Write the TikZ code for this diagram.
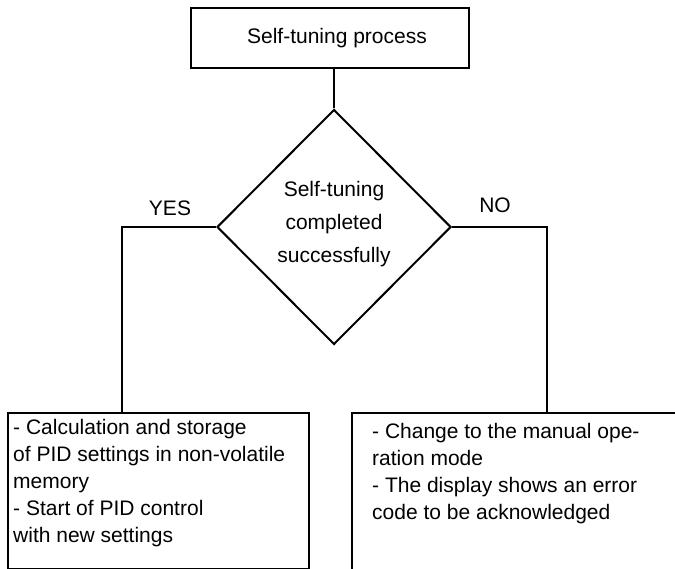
\documentclass[tikz,border=0pt]{standalone}
\usepackage{fontspec}
\setmainfont{Liberation Sans}
\usetikzlibrary{shapes.geometric,calc}
\begin{document}
\begin{tikzpicture}[x=1pt,y=-1pt,
  line/.style={line width=2pt, line join=miter},
  box/.style={draw, line width=2pt, rectangle, inner sep=0pt},
  txt/.style={font=\fontsize{21}{27}\selectfont, inner sep=0pt, align=left, anchor=north west},
  lbl/.style={font=\fontsize{21}{25}\selectfont, inner sep=0pt}]
\useasboundingbox (0,0) rectangle (675,569);
\clip (0,0) rectangle (675,569);
\node[box, minimum width=278pt, minimum height=60pt, font=\fontsize{21}{25}\selectfont] (top) at (330,38) {\hspace*{14pt}Self-tuning process};
\node[diamond, draw, line width=2pt, minimum width=234pt, minimum height=235pt, inner sep=0pt] (dec) at (334,227) {};
\node[lbl, align=center, font=\fontsize{21}{33}\selectfont] (dtext) at (334,224) {Self-tuning\\completed\\successfully};
\node[box, anchor=north west, minimum width=301pt, minimum height=156pt] (lbox) at (7,412) {};
\node[box, anchor=north west, minimum width=400pt, minimum height=220pt] (rbox) at (351,412) {};
\node[txt] (ltext) at ($(lbox.north west)+(6,7)$) {- Calculation and storage\\of PID settings in non-volatile\\memory\\- Start of PID control\\with new settings};
\node[txt] (rtext) at ($(rbox.north west)+(21,11)$) {- Change to the manual ope-\\ration mode\\- The display shows an error\\code to be acknowledged};
\node[lbl] (yes) at (170,208) {YES};
\node[lbl] (no) at (495,205) {NO};
\coordinate (yx) at (122,0);
\coordinate (nx) at (547,0);
\draw[line] (top.south -| dec.north) -- (dec.north);
\draw[line] (dec.west) -| (lbox.north -| yx);
\draw[line] (dec.east) -| (rbox.north -| nx);
\end{tikzpicture}
\end{document}
